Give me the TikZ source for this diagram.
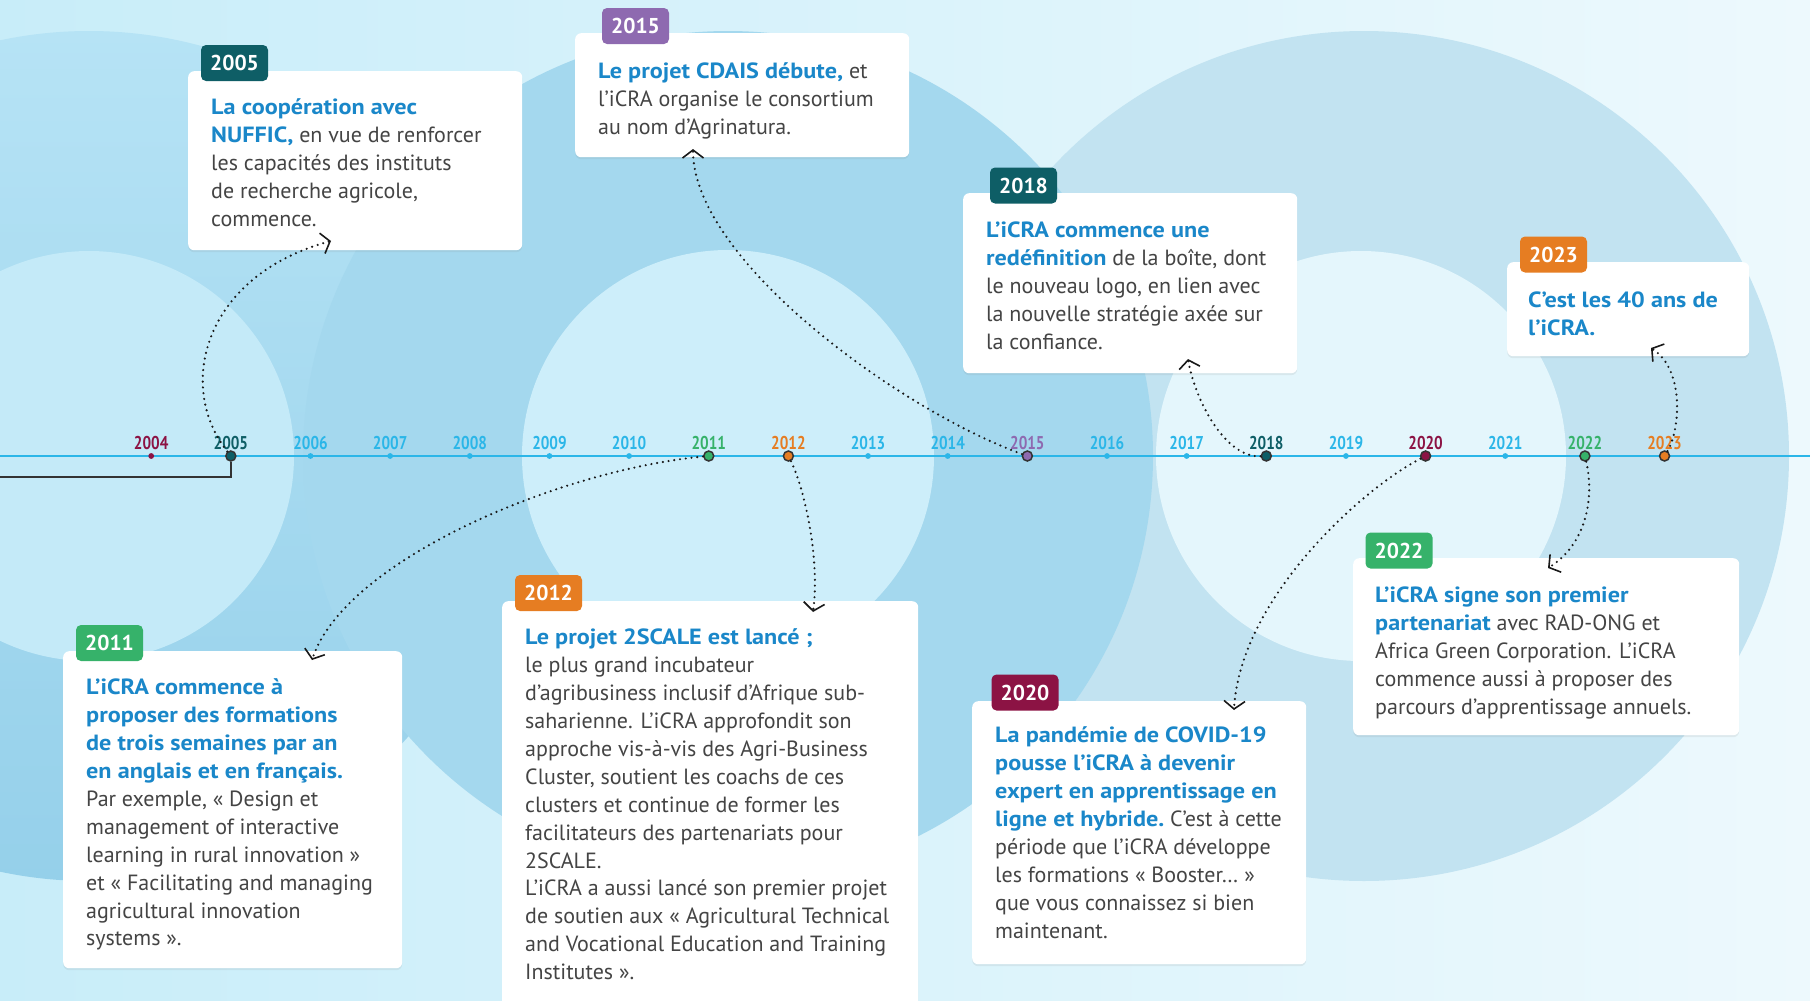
\documentclass[tikz,border=0pt]{standalone}
\usepackage{fontspec}
\setmainfont{PT Sans}
\usetikzlibrary{arrows.meta,shadows}
\definecolor{bgL}{HTML}{C8EDF9}
\definecolor{bgR}{HTML}{EDF9FD}
\definecolor{ringA}{HTML}{A4D8EE}
\definecolor{ringB}{HTML}{C2E3F1}
\definecolor{ringDt}{HTML}{B6E3F5}
\definecolor{ringDb}{HTML}{95D0EA}
\definecolor{inA}{HTML}{C4EAF8}
\definecolor{inB}{HTML}{CDEEFA}
\definecolor{inC}{HTML}{E4F6FC}
\definecolor{hblue}{HTML}{1A87C9}
\definecolor{bodyg}{HTML}{444444}
\definecolor{tealc}{HTML}{0E5E66}
\definecolor{purplec}{HTML}{8E6AB0}
\definecolor{greenc}{HTML}{36B26A}
\definecolor{orangec}{HTML}{E67D22}
\definecolor{maroonc}{HTML}{8C1344}
\definecolor{cyanc}{HTML}{2BB6E8}
\newcommand\hb[1]{{\color{hblue}\scalebox{1.1}[1]{\bfseries #1}}}
\tikzset{
  card/.style={fill=white, rounded corners=6pt, draw=none, inner sep=0pt, anchor=north west,
    drop shadow={opacity=0.12, shadow xshift=0pt, shadow yshift=-2pt}},
  yeartab/.style={rounded corners=5pt, minimum width=67pt, minimum height=36pt, inner sep=0pt,
    text=white, font=\fontsize{21.5}{21.5}\selectfont\bfseries},
  cardtxt/.style={anchor=base west, inner sep=0pt, text=bodyg, font=\fontsize{22}{27.9}\selectfont},
  conn/.style={draw=black!90, line width=2.4pt, dash pattern=on 0pt off 5.8pt, line cap=round,
    -{Straight Barb[length=8pt,width=21pt,line width=1.6pt]}},
  keydot/.style={circle, draw=black!80, line width=1.5pt, minimum size=10pt, inner sep=0pt},
  smalldot/.style={circle, minimum size=5.8pt, inner sep=0pt},
  yrlab/.style={inner sep=0pt, font=\fontsize{18.5}{18.5}\selectfont\bfseries},
}
\begin{document}
\begin{tikzpicture}[x=1pt,y=-1pt]
\useasboundingbox (0,0) rectangle (1810,1001);
% background
\begin{scope}
\clip (0,0) rectangle (1810,1001);
\shade[left color=bgL, right color=bgR] (0,0) rectangle (1810,1001);
\fill[ringB] (1364,456) circle[radius=425];
\begin{scope}
\clip (89,456) circle[radius=425];
\shade[top color=ringDt, bottom color=ringDb] (-340,30) rectangle (515,882);
\end{scope}
\fill[ringA] (728,456) circle[radius=425];
\fill[inA] (89,456) circle[radius=205];
\fill[inB] (728,456) circle[radius=206];
\fill[inC] (1361,456) circle[radius=205];
\end{scope}
% timeline
\coordinate (tlL) at (0,456);
\coordinate (tlR) at (1810,456);
\draw[cyanc, line width=1.8pt] (tlL) -- (tlR);

% cards
\node[card, minimum width=334pt, minimum height=179pt] (b2005) at (188,71) {};
\node[yeartab, fill=tealc] (tab2005) at (234.5,63) {2005};
\node[cardtxt] (x2005) at (211,99) {\parbox[t]{440pt}{\raggedright
\hb{La coopération avec}\\
\hb{NUFFIC,} en vue de renforcer\\
les capacités des instituts\\
de recherche agricole,\\
commence.}};

\node[card, minimum width=334pt, minimum height=124pt] (b2015) at (575,33) {};
\node[yeartab, fill=purplec] (tab2015) at (635.5,26) {2015};
\node[cardtxt] (x2015) at (598,63) {\parbox[t]{440pt}{\raggedright
\hb{Le projet CDAIS débute,} et\\
l’iCRA organise le consortium\\
au nom d’Agrinatura.}};

\node[card, minimum width=334pt, minimum height=180pt] (b2018) at (963,193) {};
\node[yeartab, fill=tealc] (tab2018) at (1023.5,185.5) {2018};
\node[cardtxt] (x2018) at (986,222) {\parbox[t]{440pt}{\raggedright
\hb{L’iCRA commence une}\\
\hb{redéfinition} de la boîte, dont\\
le nouveau logo, en lien avec\\
la nouvelle stratégie axée sur\\
la confiance.}};

\node[card, minimum width=242pt, minimum height=94pt] (b2023) at (1507,262) {};
\node[yeartab, fill=orangec] (tab2023) at (1553.5,254.5) {2023};
\node[cardtxt] (x2023) at (1528,292) {\parbox[t]{440pt}{\raggedright
\hb{C’est les 40 ans de}\\
\hb{l’iCRA.}}};

\node[card, minimum width=339pt, minimum height=317pt] (b2011) at (63,651) {};
\node[yeartab, fill=greenc] (tab2011) at (109.5,643) {2011};
\node[cardtxt] (x2011) at (86,679) {\parbox[t]{440pt}{\raggedright
\hb{L’iCRA commence à}\\
\hb{proposer des formations}\\
\hb{de trois semaines par an}\\
\hb{en anglais et en français.}\\
Par exemple, « Design et\\
management of interactive\\
learning in rural innovation »\\
et « Facilitating and managing\\
agricultural innovation\\
systems ».}};

\node[card, minimum width=416pt, minimum height=412pt] (b2012) at (502,601) {};
\node[yeartab, fill=orangec] (tab2012) at (548.5,593) {2012};
\node[cardtxt] (x2012) at (525,629) {\parbox[t]{440pt}{\raggedright
\hb{Le projet 2SCALE est lancé ;}\\
le plus grand incubateur\\
d’agribusiness inclusif d’Afrique sub-\\
saharienne. L’iCRA approfondit son\\
approche vis-à-vis des Agri-Business\\
Cluster, soutient les coachs de ces\\
clusters et continue de former les\\
facilitateurs des partenariats pour\\
2SCALE.\\
L’iCRA a aussi lancé son premier projet\\
de soutien aux « Agricultural Technical\\
and Vocational Education and Training\\
Institutes ».}};

\node[card, minimum width=334pt, minimum height=263pt] (b2020) at (972,701) {};
\node[yeartab, fill=maroonc] (tab2020) at (1025,692.5) {2020};
\node[cardtxt] (x2020) at (995,727) {\parbox[t]{440pt}{\raggedright
\hb{La pandémie de COVID-19}\\
\hb{pousse l’iCRA à devenir}\\
\hb{expert en apprentissage en}\\
\hb{ligne et hybride.} C’est à cette\\
période que l’iCRA développe\\
les formations « Booster… »\\
que vous connaissez si bien\\
maintenant.}};

\node[card, minimum width=386pt, minimum height=177pt] (b2022) at (1353,558) {};
\node[yeartab, fill=greenc] (tab2022) at (1399,550.5) {2022};
\node[cardtxt] (x2022) at (1375,587) {\parbox[t]{440pt}{\raggedright
\hb{L’iCRA signe son premier}\\
\hb{partenariat} avec RAD-ONG et\\
Africa Green Corporation. L’iCRA\\
commence aussi à proposer des\\
parcours d’apprentissage annuels.}};

% year dots and labels
\foreach \yr/\col/\kind in {2004/maroonc/s,2005/tealc/k,2006/cyanc/s,2007/cyanc/s,2008/cyanc/s,
  2009/cyanc/s,2010/cyanc/s,2011/greenc/k,2012/orangec/k,2013/cyanc/s,2014/cyanc/s,
  2015/purplec/k,2016/cyanc/s,2017/cyanc/s,2018/tealc/k,2019/cyanc/s,2020/maroonc/k,
  2021/cyanc/s,2022/greenc/k,2023/orangec/k}{
  \pgfmathsetmacro{\xx}{151.2+79.65*(\yr-2004)}
  \if\kind k
    \node[keydot, fill=\col] (d\yr) at (\xx,456) {};
  \else
    \node[smalldot, fill=\col] (d\yr) at (\xx,456) {};
  \fi
  \node[yrlab, text=\col] (l\yr) at (\xx,443) {\scalebox{0.82}[1]{\yr}};
}

% bracket at left
\coordinate (brL) at (0,477);
\draw[black!80, line width=2.2pt] (brL) -- (d2005.south |- brL) -- (d2005.south);

% connectors
\coordinate (t2005) at (331,241);
\coordinate (t2015) at (693,149);
\coordinate (t2018) at (1188,359);
\coordinate (t2023) at (1651,348);
\coordinate (t2011) at (312,660);
\coordinate (t2012) at (813,612);
\coordinate (t2020) at (1234,710);
\coordinate (t2022) at (1548,568);
\draw[conn] (d2005) .. controls (175,385) and (205,275) .. (t2005);
\draw[conn] (d2015) .. controls (900,410) and (693,260) .. (t2015);
\draw[conn] (d2018) .. controls (1225,458) and (1195,400) .. (t2018);
\draw[conn] (d2023) .. controls (1680,430) and (1685,370) .. (t2023);
\draw[conn] (d2011) .. controls (560,470) and (345,560) .. (t2011);
\draw[conn] (d2012) .. controls (805,490) and (820,560) .. (t2012);
\draw[conn] (d2020) .. controls (1360,490) and (1240,600) .. (t2020);
\draw[conn] (d2022) .. controls (1595,500) and (1585,545) .. (t2022);
\end{tikzpicture}
\end{document}
